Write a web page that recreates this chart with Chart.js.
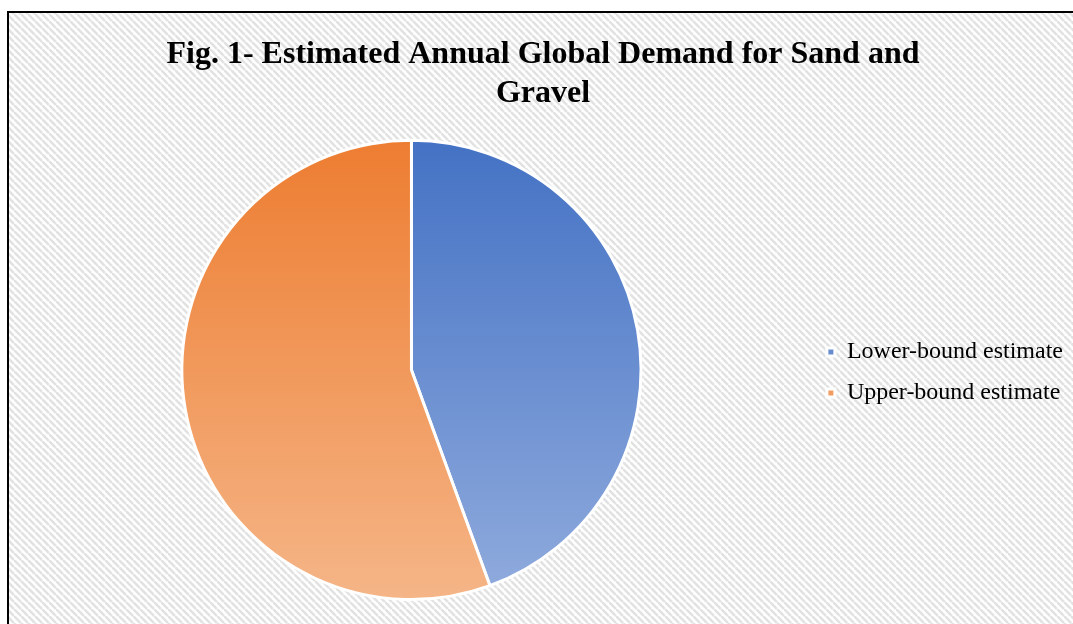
<!DOCTYPE html>
<html>
<head>
<meta charset="utf-8">
<script src="https://cdn.jsdelivr.net/npm/chart.js@4"></script>
<style>
  html, body { margin: 0; padding: 0; background: #fff; }
  #wrap { width: 1073px; height: 624px; }
</style>
</head>
<body>
<div id="wrap"><canvas id="c" width="1073" height="624"></canvas></div>
<script>
// ── data ────────────────────────────────────────────────
const LABELS = ["Lower-bound estimate", "Upper-bound estimate"];
const VALUES = [40, 50]; // billion tonnes / year (approx. from slice angles)
const TITLE  = ["Fig. 1- Estimated Annual Global Demand for Sand and", "Gravel"];

// top → bottom gradient stops for each slice
const TOP_COLORS    = ["#4472C4", "#ED7D31"];
const BOTTOM_COLORS = ["#90ABDD", "#F5B587"];

// hatched background tile
function makeHatch() {
    const s = 7;
    const t = document.createElement("canvas");
    t.width = s; t.height = s;
    const g = t.getContext("2d");
    g.fillStyle = "#ffffff";
    g.fillRect(0, 0, s, s);
    g.strokeStyle = "#e2e2e2";
    g.lineWidth = 2.6;
    [[-s, 0], [0, 0], [0, -s]].forEach(([x, y]) => {
        g.beginPath();
        g.moveTo(x, y);
        g.lineTo(x + s, y + s);
        g.stroke();
    });
    return t;
}

const bgPlugin = {
    id: "bg",
    beforeDraw(chart) {
        const ctx = chart.ctx;
        ctx.save();
        ctx.fillStyle = "#fff";
        ctx.fillRect(0, 0, chart.width, chart.height);
        ctx.fillStyle = ctx.createPattern(makeHatch(), "repeat");
        ctx.fillRect(9, 13, chart.width - 9, chart.height - 13);
        ctx.strokeStyle = "#000";
        ctx.lineWidth = 2;
        ctx.beginPath();
        ctx.moveTo(8, chart.height);
        ctx.lineTo(8, 12);
        ctx.lineTo(chart.width, 12);
        ctx.stroke();
        ctx.restore();
    }
};

function sliceFill(c) {
    const ca = c.chart.chartArea;
    if (!ca) return TOP_COLORS[c.dataIndex];
    const g = c.chart.ctx.createLinearGradient(0, 141, 0, 599);
    g.addColorStop(0, TOP_COLORS[c.dataIndex]);
    g.addColorStop(1, BOTTOM_COLORS[c.dataIndex]);
    return g;
}

new Chart(document.getElementById("c"), {
    type: "pie",
    data: {
        labels: LABELS,
        datasets: [{
            data: VALUES,
            backgroundColor: sliceFill,
            borderColor: "#ffffff",
            borderWidth: 3,
            hoverOffset: 0,
        }],
    },
    options: {
        responsive: false,
        animation: false,
        layout: { padding: { left: 13, right: 0, top: 0, bottom: 23 } },
        plugins: {
            title: {
                display: true,
                text: TITLE,
                color: "#000",
                font: { family: "Liberation Serif", size: 32, weight: "bold", lineHeight: 1.2 },
                padding: { top: 36, bottom: 26 },
            },
            legend: {
                position: "right",
                align: "start",
                // empty title used only as top spacer
                title: { display: true, text: "", font: { size: 10, lineHeight: 1 }, padding: { top: 0, bottom: 313 } },
                labels: {
                    color: "#000",
                    font: { family: "Liberation Serif", size: 24 },
                    boxWidth: 8,
                    boxHeight: 8,
                    padding: 17,
                },
            },
            tooltip: { enabled: false },
        },
    },
    plugins: [bgPlugin],
});
</script>
</body>
</html>
